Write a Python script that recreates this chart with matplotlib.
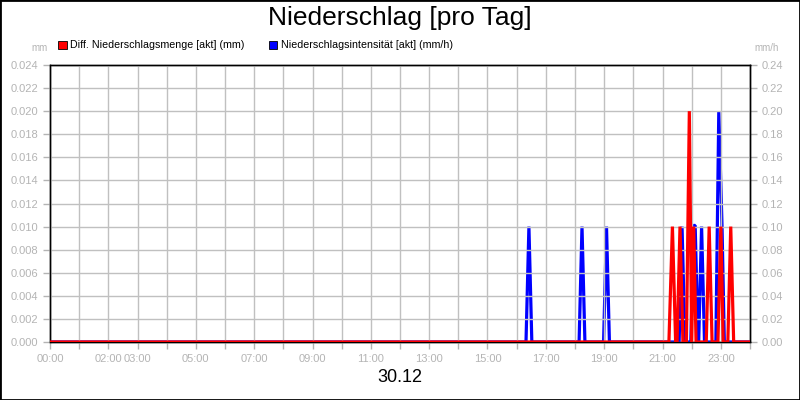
import matplotlib.pyplot as plt

plt.rcParams['font.family'] = ['Liberation Sans', 'DejaVu Sans']

# Stunden des Tages (0-24) und Werte
menge_t = [0.0, 21.22, 21.34, 21.45, 21.50, 21.60, 21.70, 21.82, 21.92, 22.00,
           22.07, 22.15, 22.50, 22.60, 22.70, 22.90, 23.00, 23.08, 23.24, 23.34, 23.44, 24.0]
menge_v = [0.0, 0.0, 0.010, 0.0, 0.0, 0.010, 0.0, 0.0, 0.020, 0.0,
           0.010, 0.0, 0.0, 0.010, 0.0, 0.0, 0.010, 0.0, 0.0, 0.010, 0.0, 0.0]

intens_t = [0.0, 16.32, 16.42, 16.52, 18.14, 18.24, 18.34, 18.98, 19.08, 19.18,
            21.57, 21.67, 21.77, 21.97, 22.07, 22.12, 22.22, 22.24, 22.34, 22.44,
            22.83, 22.93, 23.04, 23.12, 24.0]
intens_v = [0.0, 0.0, 0.10, 0.0, 0.0, 0.10, 0.0, 0.0, 0.10, 0.0,
            0.0, 0.10, 0.0, 0.0, 0.101, 0.101, 0.0, 0.0, 0.10, 0.0,
            0.0, 0.20, 0.101, 0.0, 0.0]

tick_hours = [0, 2, 3, 5, 7, 9, 11, 13, 15, 17, 19, 21, 23]
tick_labels = ['%02d:00' % h for h in tick_hours]
left_ticks = [i * 0.002 for i in range(13)]
right_ticks = [i * 0.02 for i in range(13)]

grey = '#b4b4b4'
fig = plt.figure(figsize=(8, 4), dpi=100)
fig.patches.append(plt.Rectangle((0, 0), 1, 1, transform=fig.transFigure,
                                 fill=False, edgecolor='black', linewidth=2))

ax = fig.add_axes([0.0625, 0.145, 0.875, 0.6925])
ax2 = ax.twinx()

ax2.plot(intens_t, intens_v, color='#0000ff', linewidth=2.3, zorder=3,
         solid_joinstyle='bevel')
ax.set_zorder(ax2.get_zorder() + 1)
ax.patch.set_visible(False)
ax.plot(menge_t, menge_v, color='#ff0000', linewidth=2.3, zorder=3,
        solid_joinstyle='bevel')

ax.set_xlim(0, 24)
ax.set_ylim(0, 0.024)
ax2.set_ylim(0, 0.24)
ax.set_xticks(range(25), minor=True)
ax.set_xticks(tick_hours)
ax.set_xticklabels(tick_labels)
ax.set_yticks(left_ticks)
ax.set_yticklabels(['%.3f' % v for v in left_ticks])
ax2.set_yticks(right_ticks)
ax2.set_yticklabels(['%.2f' % v for v in right_ticks])

ax.grid(True, which='both', color='#c0c0c0', linewidth=1)
ax.set_axisbelow(True)
for a in (ax, ax2):
    a.tick_params(which='both', colors=grey, labelcolor=grey, labelsize=8, length=5, width=1)
    for s in a.spines.values():
        s.set_color('black')
        s.set_linewidth(1)

fig.text(0.5, 0.955, 'Niederschlag [pro Tag]', ha='center', va='center', fontsize=19)
fig.text(0.5, 0.055, '30.12', ha='center', va='center', fontsize=13)
fig.text(0.05, 0.88, 'mm', ha='center', va='center', fontsize=7, color=grey)
fig.text(0.958, 0.88, 'mm/h', ha='center', va='center', fontsize=7, color=grey)

fig.patches.append(plt.Rectangle((0.073, 0.877), 0.0105, 0.021, transform=fig.transFigure,
                                 facecolor='#ff0000', edgecolor='black', linewidth=0.6))
fig.text(0.087, 0.888, 'Diff. Niederschlagsmenge [akt] (mm)', va='center', fontsize=7.7)
fig.patches.append(plt.Rectangle((0.336, 0.877), 0.0105, 0.021, transform=fig.transFigure,
                                 facecolor='#0000ff', edgecolor='black', linewidth=0.6))
fig.text(0.351, 0.888, 'Niederschlagsintensität [akt] (mm/h)', va='center', fontsize=7.7)

fig.savefig('out.png', dpi=100)
